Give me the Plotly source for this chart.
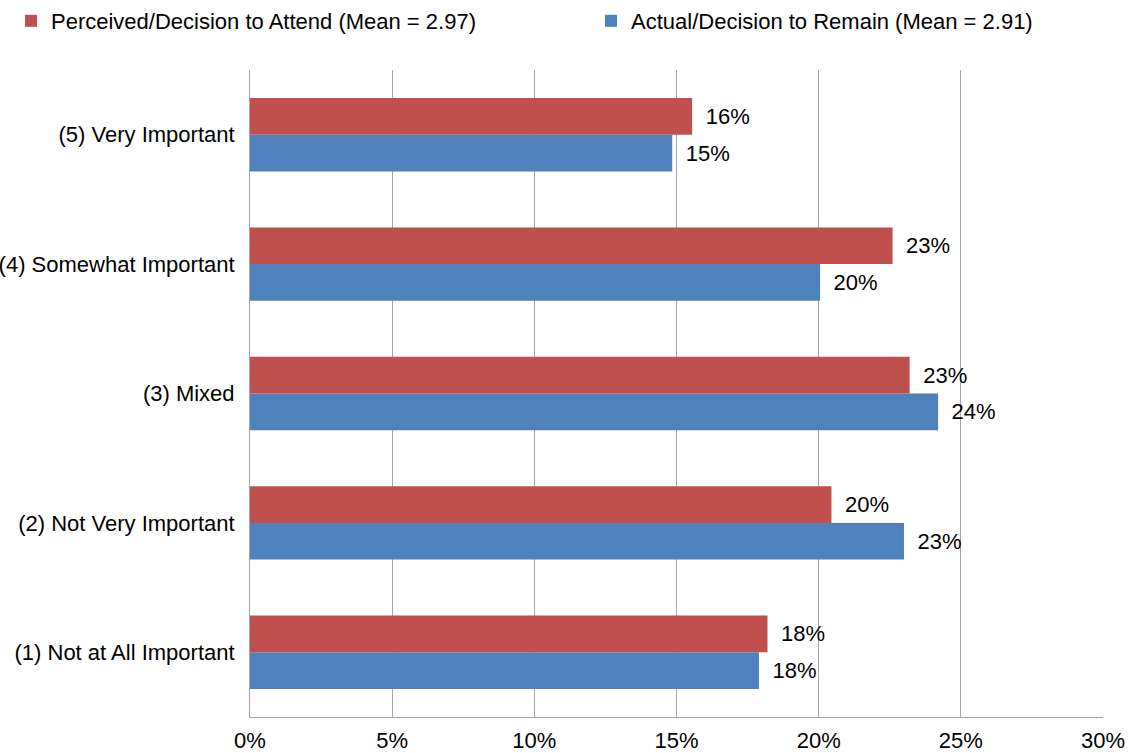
import plotly.graph_objects as go

# Importance ratings, listed bottom-to-top as drawn on the y axis
categories = [
    "(1) Not at All Important",
    "(2) Not Very Important",
    "(3) Mixed",
    "(4) Somewhat Important",
    "(5) Very Important",
]
perceived = [18.2, 20.45, 23.2, 22.6, 15.55]   # Perceived/Decision to Attend
actual = [17.9, 23.0, 24.2, 20.05, 14.85]      # Actual/Decision to Remain

x_ticks = [0, 5, 10, 15, 20, 25, 30]
x_tick_labels = ["0%", "5%", "10%", "15%", "20%", "25%", "30%"]

RED = "#C0504D"
BLUE = "#4F81BD"
GRID = "#A6A6A6"
FONT = "Liberation Sans, Arial, sans-serif"
FS = 22

fig = go.Figure()
fig.add_trace(go.Bar(
    y=categories, x=actual, orientation="h",
    name="Actual/Decision to Remain (Mean = 2.91)",
    legend="legend2",
    marker=dict(color=BLUE, line=dict(width=0)),
    texttemplate="\u00a0\u2009%{x:.0f}%", textposition="outside",
    textfont=dict(size=FS, color="#000000"), cliponaxis=False,
))
fig.add_trace(go.Bar(
    y=categories, x=perceived, orientation="h",
    name="Perceived/Decision to Attend (Mean = 2.97)",
    legend="legend",
    marker=dict(color=RED, line=dict(width=0)),
    texttemplate="\u00a0\u2009%{x:.0f}%", textposition="outside",
    textfont=dict(size=FS, color="#000000"), cliponaxis=False,
))

legend_common = dict(
    orientation="h", xref="container", yref="container",
    y=1.0, xanchor="left", yanchor="top",
    font=dict(size=FS), bgcolor="rgba(0,0,0,0)",
)

fig.update_layout(
    width=1130, height=753,
    margin=dict(l=250, r=27, t=70, b=36, autoexpand=False),
    paper_bgcolor="white", plot_bgcolor="white",
    font=dict(family=FONT, size=FS, color="#000000"),
    barmode="group", bargap=0.433, bargroupgap=0,
    showlegend=True,
    legend=dict(x=11 / 1130, **legend_common),
    legend2=dict(x=591 / 1130, **legend_common),
    xaxis=dict(
        range=[0, 30], tickvals=x_ticks, ticktext=x_tick_labels,
        showgrid=True, gridcolor=GRID, gridwidth=1,
        zeroline=False, showline=True, linecolor=GRID, linewidth=1,
        ticks="", ticklabelstandoff=4, mirror=False,
    ),
    yaxis=dict(
        showgrid=False, zeroline=False, showline=True, linecolor=GRID,
        ticks="", ticklabelstandoff=10, automargin=False,
    ),
)

fig.write_html("out.html")
